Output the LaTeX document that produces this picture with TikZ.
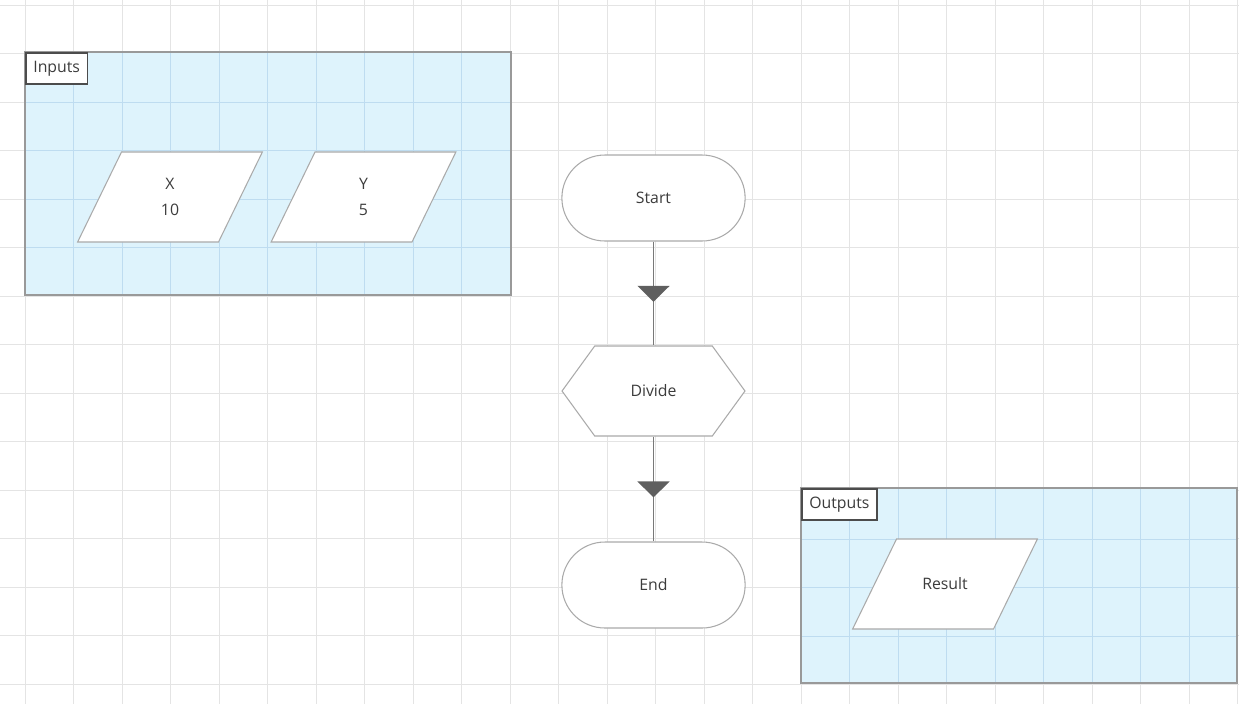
\documentclass[tikz,border=0pt]{standalone}
\usepackage{fontspec}
\setmainfont{Open Sans}
\usetikzlibrary{shapes.geometric,shapes.misc,shapes.symbols,arrows.meta,decorations.markings}

\definecolor{gridgray}{RGB}{228,228,228}
\definecolor{panelblue}{RGB}{222,243,252}
\definecolor{panelgrid}{RGB}{190,220,240}
\definecolor{shapeline}{RGB}{170,170,170}
\definecolor{flowline}{RGB}{120,120,120}
\definecolor{tipgray}{RGB}{95,95,95}
\definecolor{txtgray}{RGB}{60,60,60}

\newcommand{\datalabel}[1]{\parbox[c][1.8cm][c]{1.94cm}{\centering\baselineskip=15pt #1}}

\begin{document}
\begin{tikzpicture}[
    x=0.02cm, y=-0.02cm,
    every node/.style={font=\fontsize{9}{12}\selectfont, text=txtgray},
    terminal/.style={rounded rectangle, draw=shapeline, fill=white, line width=0.6pt,
        minimum width=3.9cm, minimum height=1.72cm},
    process/.style={signal, signal to=west and east, signal pointer angle=108,
        draw=shapeline, fill=white, line width=0.6pt,
        minimum width=3.66cm, minimum height=1.8cm},
    datanode/.style={trapezium, trapezium left angle=64, trapezium right angle=116,
        draw=shapeline, fill=white, line width=0.6pt, inner sep=0pt},
    panel/.style={draw=gray!80, fill=panelblue, line width=0.6pt},
    tag/.style={draw=black!70, fill=white, line width=0.9pt, anchor=north west,
        font=\fontsize{9}{11}\selectfont, inner xsep=4.3pt, inner ysep=1.5pt,
        minimum height=0.62cm},
    flow/.style={draw=flowline, line width=1pt, postaction={decorate},
        decoration={markings, mark=at position 0.58 with
            {\arrow[tipgray]{Triangle[width=0.64cm, length=0.32cm]}}}}
]
\useasboundingbox (0,0) rectangle (1239,704);

% background grid
\foreach \gx in {25,73.5,...,1240}
    \draw[gridgray, line width=0.5pt] (\gx,0) -- (\gx,704);
\foreach \gy in {5,53.5,...,704}
    \draw[gridgray, line width=0.5pt] (0,\gy) -- (1239,\gy);

% panels
\draw[panel] (25,52) rectangle (511,295);
\draw[panel] (801,488) rectangle (1237,683);
\begin{scope}
    \clip (25,52) rectangle (511,295);
    \foreach \gx in {73.5,122,...,511}
        \draw[panelgrid, line width=0.5pt] (\gx,52) -- (\gx,295);
    \foreach \gy in {102,150.5,...,295}
        \draw[panelgrid, line width=0.5pt] (25,\gy) -- (511,\gy);
\end{scope}
\begin{scope}
    \clip (801,488) rectangle (1237,683);
    \foreach \gx in {849.5,898,...,1237}
        \draw[panelgrid, line width=0.5pt] (\gx,488) -- (\gx,683);
    \foreach \gy in {539,587.5,...,683}
        \draw[panelgrid, line width=0.5pt] (801,\gy) -- (1237,\gy);
\end{scope}
\draw[draw=gray!80, line width=0.6pt] (25,52) rectangle (511,295);
\draw[draw=gray!80, line width=0.6pt] (801,488) rectangle (1237,683);

\node[tag] (inputs) at (25,52) {Inputs};
\node[tag] (outputs) at (801,488) {Outputs};

% data
\node[datanode] (x) at (170,197) {\datalabel{X\\10}};
\node[datanode] (y) at (363.5,197) {\datalabel{Y\\5}};
\node[datanode] (result) at (945,584) {\datalabel{Result}};

% flow
\node[terminal] (start) at (653.5,198) {Start};
\node[process] (divide) at (653.5,391) {Divide};
\node[terminal] (end) at (653.5,585) {End};

\draw[flow] (start.south) -- (divide.north);
\draw[flow] (divide.south) -- (end.north);
\end{tikzpicture}
\end{document}
